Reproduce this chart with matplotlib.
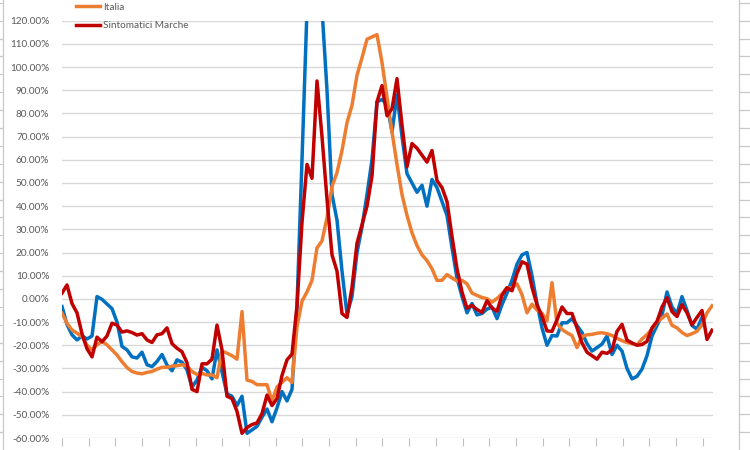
import numpy as np
import matplotlib
matplotlib.use("Agg")
import matplotlib.pyplot as plt
from matplotlib.lines import Line2D

plt.rcParams['font.family'] = ['Lato', 'DejaVu Sans']

# ---- data (percent change), sampled on a common regular time index ----
blue_vals = [
    -3.3, -11, -15.5, -17.7, -16, -17.3, -16, 1, -0.2, -2.2,
    -4.2, -10, -20.5, -22, -25, -25.5, -23, -28.4, -29.2, -27,
    -24, -28.5, -31, -26.3, -27.3, -30.6, -38, -35, -29.5, -31,
    -34.5, -22, -31.5, -41, -42, -46, -42, -58, -56.5, -55,
    -51, -47.5, -53, -47, -40, -44, -39, -3, 60, 125,
    160, 160, 125, 90, 45, 34, 12, -6.5, 1, 20,
    31, 45, 60, 85, 86, 84, 72, 88, 70, 54,
    50, 46, 49, 40, 51.5, 48, 42, 36, 22, 9,
    1, -6, -2, -6.9, -6.3, -4.4, -3.5, -8.5, -2.5, 2.5,
    8, 15, 19, 20, 10, -2, -12.5, -20, -15.8, -16,
    -10.3, -10.3, -8.5, -11.5, -14.5, -19.3, -22.5, -21, -19.5, -16,
    -24, -20, -22.5, -30, -34.5, -33.4, -30.3, -24.5, -16, -11.5,
    -7, 3, -3.5, -6.3, 1, -5, -11.5, -13, -8, np.nan,
    np.nan,
]

italia_vals = [
    -6.2, -10.5, -13.4, -14.8, -16.3, -20, -22, -19.8, -18.4, -19.8,
    -22, -24.2, -27.1, -29.6, -31.3, -32, -32.3, -31.7, -31.3, -30.3,
    -29.5, -29.5, -29, -28.8, -28.4, -29, -31.3, -32.6, -32.2, -32.8,
    -32.8, -34, -22.5, -23.4, -24.5, -26, -5.5, -35, -35.6, -37,
    -37, -37, -44, -38, -36, -34, -36, -12, -1, 3,
    8, 22, 25, 35, 48.5, 54.5, 64, 76, 83.5, 96.5,
    104, 112, 113, 114, 102, 87, 72, 58, 45, 36,
    28.5, 23, 19, 16.5, 13, 8, 8, 10.5, 9, 7.8,
    8, 6.5, 2.5, 1.5, 0.6, 0.1, -1.4, 0.2, 2.2, 4.8,
    4.7, 6.5, 1.8, -6, -2.3, -4.8, -6.2, -9.5, 7, -10.5,
    -13.2, -14.6, -15.8, -21, -16.2, -15.5, -15.3, -14.8, -14.6, -15,
    -15.8, -17, -18, -18.8, -19.3, -19.8, -17.3, -15.4, -13, -10,
    -8.3, -6.5, -11.4, -12.5, -14.5, -15.8, -15, -14, -11.2, -6,
    -3,
]

marche_vals = [
    2.5, 6, -2, -6, -15, -21.5, -25, -16.5, -18.5, -16,
    -10.5, -11.3, -14.3, -13.8, -14.5, -15.6, -15, -17.7, -18.8, -15.5,
    -15, -12.5, -19.3, -21.3, -22.8, -27.5, -39, -40, -28, -28,
    -26, -11.3, -22, -42, -43, -48.5, -58, -55.5, -54.2, -53.5,
    -49.5, -41.5, -46, -43, -33, -26.3, -23.8, -3, 33, 58,
    52, 94, 70, 43, 19, 12, -6.3, -8, 5, 24,
    32, 40, 53, 85, 92, 79, 82, 95, 75, 57,
    67, 65, 62, 59, 64, 51, 48, 42, 27, 13,
    3, -4, -2.8, -4.6, -5.8, -0.8, -4, -5.3, 1.5, 4.8,
    3.5, 11, 16, 15, 5, -2.5, -7.5, -13.8, -14, -9,
    -3.5, -6.3, -6.3, -12.5, -19, -23, -24.5, -26, -23, -23.5,
    -22, -14, -11, -17.8, -19, -20, -19.7, -18.3, -12.5, -9.7,
    -3.5, 0.5, -5.5, -7.6, -2.5, -6, -11.2, -8, -5, -17.5,
    -13.5,
]

series_labels = ["Sintomatici (blu)", "Italia", "Sintomatici Marche"]
y_ticks = list(range(-60, 121, 10))

BLUE = "#0070C0"
ORANGE = "#ED7D31"
RED = "#C00000"
GRID = "#D9D9D9"
TXT = "#595959"

fig = plt.figure(figsize=(7.5, 4.5), dpi=100)
fig.patch.set_facecolor("white")

ax = fig.add_axes([62 / 750, 1 - 438 / 450, (713 - 62) / 750, (438 - 20.7) / 450])
x = np.arange(len(italia_vals))

LW = 2.5
lb, = ax.plot(x, blue_vals, color=BLUE, lw=LW, solid_joinstyle="round", zorder=3)
lo, = ax.plot(x, italia_vals, color=ORANGE, lw=LW, solid_joinstyle="round", zorder=4)
lr, = ax.plot(x, marche_vals, color=RED, lw=LW, solid_joinstyle="round", zorder=5)

ax.set_xlim(0, len(italia_vals) - 1 + 0.2)
ax.set_ylim(-60, 120)
ax.set_yticks(y_ticks)
ax.set_yticklabels([f"{v:.2f}%" for v in y_ticks], color=TXT, fontsize=7.2)
ax.tick_params(axis="y", length=0, pad=9)
ax.set_xticks(np.arange(0, len(italia_vals), 5.34))
ax.tick_params(axis="x", direction="out", length=6, color="#BFBFBF", labelbottom=False)
ax.grid(axis="y", color=GRID, lw=1.0)
ax.set_axisbelow(True)
for s in ax.spines.values():
    s.set_visible(False)

fig.legend([lo, lr], series_labels[1:], loc="upper left",
           bbox_to_anchor=(76 / 750, 1 - 2.5 / 450), frameon=False, fontsize=7.2,
           handlelength=2.4, handletextpad=0.3, labelspacing=0.95,
           borderpad=0, borderaxespad=0, labelcolor=TXT)

# spreadsheet cell borders at the edges of the screenshot
def fig_line(x0, y0, x1, y1):
    fig.add_artist(Line2D([x0 / 750, x1 / 750], [1 - y0 / 450, 1 - y1 / 450],
                          color="#C8C8C8", lw=0.9, transform=fig.transFigure))

fig_line(2.7, 0, 2.7, 450)
fig_line(739.3, 0, 739.3, 450)
for yy in np.arange(2.7, 450, 17.9):
    fig_line(0, yy, 2.7, yy)
    fig_line(739.3, yy, 750, yy)

fig.savefig("out.png", dpi=100, facecolor="white")
